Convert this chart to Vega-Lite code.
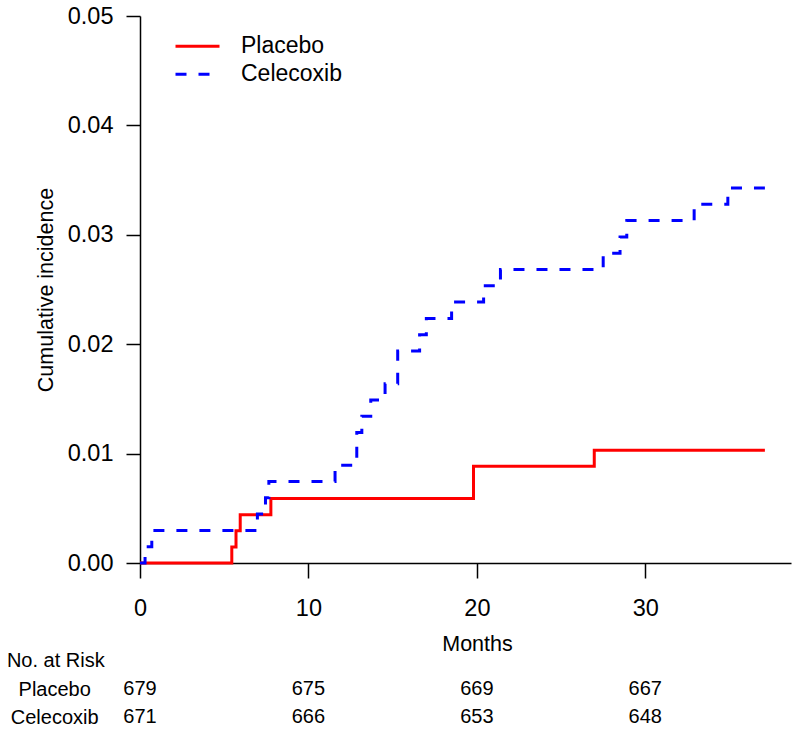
{
  "$schema": "https://vega.github.io/schema/vega-lite/v6.json",
  "padding": {"left": 6, "top": 4, "right": 5, "bottom": 5},
  "background": "white",
  "bounds": "flush",
  "spacing": 112,
  "config": {
    "view": {"stroke": null},
    "font": "Liberation Sans",
    "axis": {
      "domainColor": "black", "tickColor": "black", "labelColor": "black", "titleColor": "black",
      "domainWidth": 1.5, "tickWidth": 1.5, "grid": false, "labelFlush": false,
      "labelFont": "Liberation Sans", "titleFont": "Liberation Sans", "titleFontWeight": "normal"
    },
    "legend": {"labelFont": "Liberation Sans"}
  },
  "vconcat": [
    {
      "width": 651,
      "height": 547,
      "data": {"values": [
        {"group": "Placebo", "month": 0, "ci": 0},
        {"group": "Placebo", "month": 5.45, "ci": 0.00147},
        {"group": "Placebo", "month": 5.7, "ci": 0.00295},
        {"group": "Placebo", "month": 5.95, "ci": 0.00442},
        {"group": "Placebo", "month": 7.77, "ci": 0.00589},
        {"group": "Placebo", "month": 19.8, "ci": 0.00884},
        {"group": "Placebo", "month": 26.97, "ci": 0.01031},
        {"group": "Placebo", "month": 37.1, "ci": 0.01031},
        {"group": "Celecoxib", "month": 0, "ci": 0},
        {"group": "Celecoxib", "month": 0.3, "ci": 0.00149},
        {"group": "Celecoxib", "month": 0.7, "ci": 0.00298},
        {"group": "Celecoxib", "month": 6.97, "ci": 0.00447},
        {"group": "Celecoxib", "month": 7.45, "ci": 0.00596},
        {"group": "Celecoxib", "month": 7.65, "ci": 0.00745},
        {"group": "Celecoxib", "month": 11.58, "ci": 0.00894},
        {"group": "Celecoxib", "month": 12.87, "ci": 0.01192},
        {"group": "Celecoxib", "month": 13.17, "ci": 0.01341},
        {"group": "Celecoxib", "month": 13.7, "ci": 0.0149},
        {"group": "Celecoxib", "month": 14.55, "ci": 0.01639},
        {"group": "Celecoxib", "month": 15.3, "ci": 0.01937},
        {"group": "Celecoxib", "month": 16.6, "ci": 0.02086},
        {"group": "Celecoxib", "month": 17.0, "ci": 0.02235},
        {"group": "Celecoxib", "month": 18.5, "ci": 0.02385},
        {"group": "Celecoxib", "month": 20.4, "ci": 0.02534},
        {"group": "Celecoxib", "month": 21.4, "ci": 0.02683},
        {"group": "Celecoxib", "month": 27.5, "ci": 0.02832},
        {"group": "Celecoxib", "month": 28.5, "ci": 0.02981},
        {"group": "Celecoxib", "month": 28.9, "ci": 0.0313},
        {"group": "Celecoxib", "month": 32.9, "ci": 0.03279},
        {"group": "Celecoxib", "month": 34.9, "ci": 0.03428},
        {"group": "Celecoxib", "month": 37.1, "ci": 0.03428}
      ]},
      "mark": {"type": "line", "interpolate": "step-after", "strokeWidth": 3, "strokeCap": "butt", "clip": false},
      "encoding": {
        "x": {
          "field": "month", "type": "quantitative",
          "scale": {"domain": [0, 38.65], "nice": false, "zero": false},
          "axis": {
            "values": [0, 10, 20, 30], "tickSize": 15, "labelPadding": 18, "labelFontSize": 23.5, "labelFlush": false,
            "title": "Months", "titleFontSize": 21.5, "titleX": 337, "titleY": 87,
            "titleBaseline": "alphabetic", "titleAlign": "center"
          }
        },
        "y": {
          "field": "ci", "type": "quantitative",
          "scale": {"domain": [0, 0.05], "nice": false},
          "axis": {
            "values": [0, 0.01, 0.02, 0.03, 0.04, 0.05], "format": ".2f", "labelFlush": false,
            "tickSize": 14, "labelPadding": 13, "labelFontSize": 23.5,
            "title": "Cumulative incidence", "titleFontSize": 21.5,
            "titleX": -88, "titleY": 273.5, "titleBaseline": "alphabetic", "titleAngle": 270, "titleAlign": "center"
          }
        },
        "color": {
          "field": "group", "type": "nominal",
          "scale": {"domain": ["Placebo", "Celecoxib"], "range": ["#ff0000", "#0000ff"]},
          "legend": {
            "orient": "none", "legendX": 46, "legendY": 18.8, "title": null,
            "symbolType": "M-2.2,0H2.2", "symbolSize": 400, "symbolStrokeWidth": 3,
            "labelFontSize": 23, "labelOffset": 32, "rowPadding": 4, "padding": 0, "labelColor": "black"
          }
        },
        "strokeDash": {
          "field": "group", "type": "nominal",
          "scale": {"domain": ["Placebo", "Celecoxib"], "range": [[1, 0], [11, 12]]},
          "legend": {
            "orient": "none", "legendX": 46, "legendY": 18.8, "title": null,
            "symbolType": "M-2.2,0H2.2", "symbolSize": 400, "symbolStrokeWidth": 3,
            "labelFontSize": 23, "labelOffset": 32, "rowPadding": 4, "padding": 0, "labelColor": "black"
          }
        }
      }
    },
    {
      "width": 651,
      "height": 56,
      "data": {"values": [
        {"group": "Placebo", "month": 0, "n": 679},
        {"group": "Placebo", "month": 10, "n": 675},
        {"group": "Placebo", "month": 20, "n": 669},
        {"group": "Placebo", "month": 30, "n": 667},
        {"group": "Celecoxib", "month": 0, "n": 671},
        {"group": "Celecoxib", "month": 10, "n": 666},
        {"group": "Celecoxib", "month": 20, "n": 653},
        {"group": "Celecoxib", "month": 30, "n": 648}
      ]},
      "mark": {"type": "text", "fontSize": 20, "align": "center", "baseline": "middle", "color": "black", "font": "Liberation Sans"},
      "encoding": {
        "x": {"field": "month", "type": "quantitative", "scale": {"domain": [0, 38.65], "nice": false, "zero": false}, "axis": null},
        "y": {
          "field": "group", "type": "nominal", "sort": ["Placebo", "Celecoxib"],
          "scale": {"paddingInner": 0, "paddingOuter": 0},
          "axis": {
            "domain": false, "ticks": false, "tickSize": 0, "labelPadding": 85.8, "labelAlign": "center",
            "labelBaseline": "middle", "labelFontSize": 20,
            "title": "No. at Risk", "titleAngle": 0, "titleFontSize": 20, "titleAlign": "left",
            "titleBaseline": "alphabetic", "titleX": -133.6, "titleY": -9
          }
        },
        "text": {"field": "n", "type": "quantitative"}
      }
    }
  ]
}
